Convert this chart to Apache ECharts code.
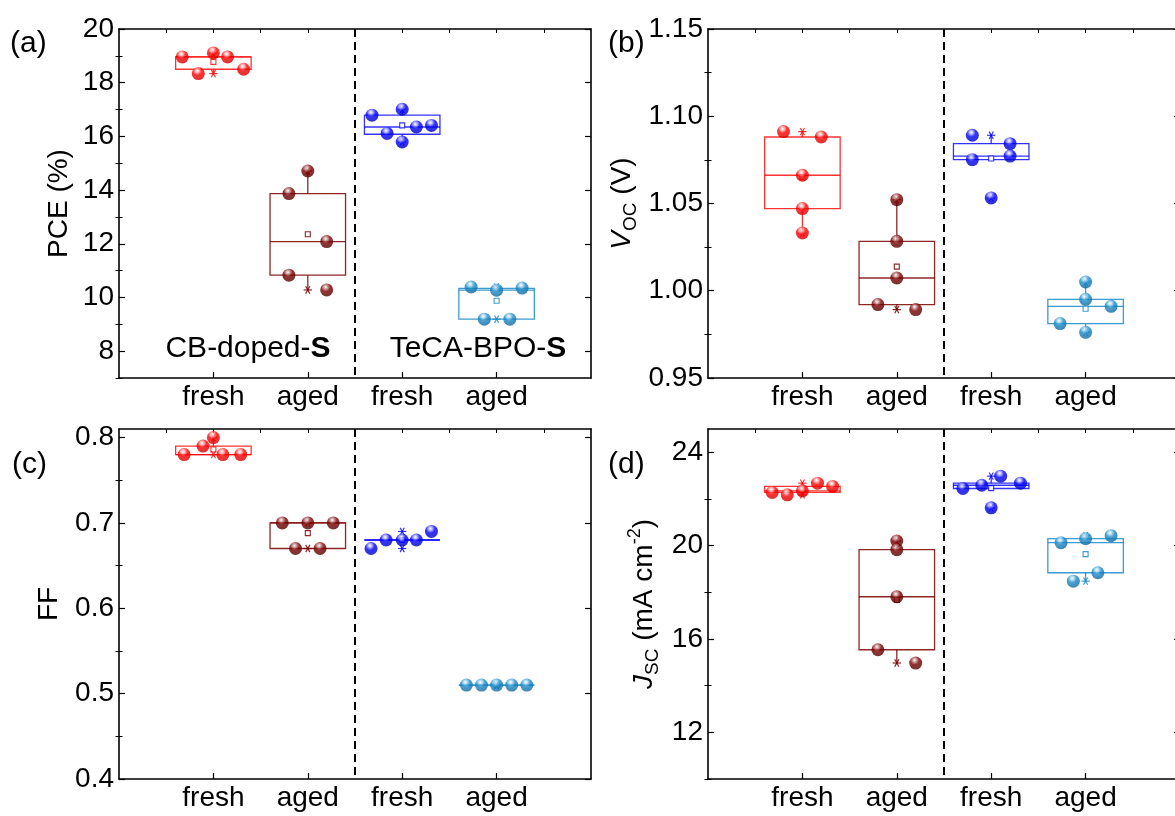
<!DOCTYPE html>
<html><head><meta charset="utf-8">
<script src="https://cdn.jsdelivr.net/npm/echarts@6/dist/echarts.min.js"></script>
<style>html,body{margin:0;padding:0;background:#fff}#c{width:1175px;height:816px}</style>
</head><body><div id="c"></div>
<script>
// ---------------- DATA ----------------
const groupLabels = ['fresh', 'aged', 'fresh', 'aged'];
const groupCenters = [1, 2, 3, 4];
const dividerX = 2.5;

// PCE (%)
const pceValues = [
  [18.96, 18.34, 19.11, 18.96, 18.50],
  [14.71, 13.87, 12.08, 10.83, 10.28],
  [16.79, 17.01, 16.11, 15.79, 16.35, 16.41],
  [10.39, 10.27, 10.35, 9.19, 9.19]
];
const pceJitter = [
  [-0.33, -0.16, 0, 0.15, 0.32],
  [0, -0.2, 0.2, -0.2, 0.2],
  [-0.32, 0, -0.16, 0, 0.15, 0.31],
  [-0.27, 0, 0.27, -0.13, 0.14]
];
// box stats: [whiskerLow, Q1, median, Q3, whiskerHigh]
const pceBox = [
  [18.34, 18.50, 18.96, 18.96, 19.11],
  [10.28, 10.83, 12.08, 13.87, 14.71],
  [15.79, 16.08, 16.35, 16.79, 17.01],
  [9.19, 9.19, 10.27, 10.34, 10.39]
];
const pceTicks = [8, 10, 12, 14, 16, 18, 20];
const pceMinorTicks = [7, 9, 11, 13, 15, 17, 19];

// Voc (V)
const vocValues = [
  [1.0912, 1.0881, 1.0662, 1.0471, 1.0331],
  [1.0522, 1.0283, 1.0073, 0.9921, 0.9892],
  [1.0891, 1.0843, 1.0751, 1.0772, 1.0532],
  [1.0050, 0.9951, 0.9911, 0.9812, 0.9762]
];
const vocJitter = [
  [-0.2, 0.2, 0, 0, 0],
  [0, 0, 0, -0.2, 0.2],
  [-0.2, 0.2, -0.2, 0.2, 0],
  [0, 0, 0.27, -0.27, 0]
];
const vocBox = [
  [1.0331, 1.0471, 1.0662, 1.0881, 1.0912],
  [0.9892, 0.9921, 1.0073, 1.0283, 1.0522],
  [1.0751, 1.0751, 1.0772, 1.0843, 1.0891],
  [0.9762, 0.9812, 0.9911, 0.9951, 1.0050]
];
const vocTicks = [0.95, 1.00, 1.05, 1.10, 1.15];
const vocMinorTicks = [0.975, 1.025, 1.075, 1.125];

// FF
const ffValues = [
  [0.78, 0.79, 0.80, 0.78, 0.78],
  [0.70, 0.70, 0.70, 0.67, 0.67],
  [0.67, 0.68, 0.68, 0.68, 0.69],
  [0.51, 0.51, 0.51, 0.51, 0.51]
];
const ffJitter = [
  [-0.31, -0.11, 0, 0.10, 0.29],
  [-0.27, 0, 0.27, -0.13, 0.13],
  [-0.33, -0.17, 0, 0.15, 0.31],
  [-0.32, -0.16, 0, 0.16, 0.32]
];
const ffBox = [
  [0.78, 0.78, 0.78, 0.79, 0.80],
  [0.67, 0.67, 0.70, 0.70, 0.70],
  [0.68, 0.68, 0.68, 0.68, 0.68],
  [0.51, 0.51, 0.51, 0.51, 0.51]
];
const ffTicks = [0.4, 0.5, 0.6, 0.7, 0.8];
const ffMinorTicks = [0.45, 0.55, 0.65, 0.75];

// Jsc (mA cm-2)
const jscValues = [
  [22.28, 22.18, 22.35, 22.68, 22.54],
  [20.20, 19.83, 17.81, 15.54, 14.97],
  [22.45, 22.59, 22.98, 22.68, 21.62],
  [20.13, 20.30, 20.43, 18.48, 18.84]
];
const jscJitter = [
  [-0.32, -0.16, 0, 0.16, 0.32],
  [0, 0, 0, -0.2, 0.2],
  [-0.30, -0.10, 0.10, 0.31, 0],
  [-0.26, 0, 0.27, -0.13, 0.13]
];
const jscBox = [
  [22.18, 22.28, 22.35, 22.54, 22.68],
  [14.97, 15.54, 17.81, 19.83, 20.20],
  [22.45, 22.45, 22.59, 22.68, 22.98],
  [18.48, 18.84, 20.13, 20.30, 20.43]
];
const jscTicks = [12, 16, 20, 24];
const jscMinorTicks = [10, 14, 18, 22];

// ---------------- STYLE ----------------
const FONT = 'Liberation Sans, Arial, sans-serif';
const ballStyles = [
  { base: '#FF0000', light: '#FFB0B0', dark: '#D00000' },
  { base: '#7A0000', light: '#C89090', dark: '#500000' },
  { base: '#0000FF', light: '#A8A8FF', dark: '#0000B8' },
  { base: '#1A8AC8', light: '#A8D6F0', dark: '#0F6498' }
];
const boxColors = ['rgba(255,0,0,0.8)', 'rgba(122,0,0,0.85)', 'rgba(0,0,255,0.8)', 'rgba(26,138,200,0.85)'];
const boxHalf = 0.4;

const panels = [
  { values: pceValues, jitter: pceJitter, box: pceBox, min: 7, max: 20, ticks: pceTicks, minor: pceMinorTicks, dec: 0,
    name: 'PCE (%)', nameGap: 46, grid: { left: 119, top: 29, width: 472, height: 349 } },
  { values: vocValues, jitter: vocJitter, box: vocBox, min: 0.95, max: 1.15, ticks: vocTicks, minor: vocMinorTicks, dec: 2,
    name: '{i|V}{s|OC}{n| (V)}', nameGap: 68, grid: { left: 708, top: 29, width: 472, height: 349 } },
  { values: ffValues, jitter: ffJitter, box: ffBox, min: 0.4, max: 0.81, ticks: ffTicks, minor: ffMinorTicks, dec: 1,
    name: 'FF', nameGap: 56, grid: { left: 119, top: 429, width: 472, height: 350 } },
  { values: jscValues, jitter: jscJitter, box: jscBox, min: 10, max: 25, ticks: jscTicks, minor: jscMinorTicks, dec: 0,
    name: '{i|J}{s|SC}{n| (mA cm}{p|-2}{n|)}', nameGap: 46, grid: { left: 708, top: 429, width: 472, height: 350 } }
];

const lineCol = '#000';
const grids = [], xAxes = [], yAxes = [], series = [];

function ballColor(s) {
  return {
    type: 'radial', x: 0.42, y: 0.28, r: 0.75,
    colorStops: [
      { offset: 0, color: '#ffffff' },
      { offset: 0.18, color: s.light },
      { offset: 0.45, color: s.base },
      { offset: 1, color: s.dark }
    ]
  };
}

panels.forEach((p, gi) => {
  grids.push(Object.assign({ outerBoundsMode: 'none', containLabel: false }, p.grid));
  // bottom x axis
  xAxes.push({
    type: 'value', gridIndex: gi, position: 'bottom', min: 0, max: 5,
    axisLine: { show: true, onZero: false, lineStyle: { color: lineCol, width: 1.6 } },
    axisTick: { show: true, inside: true, length: 6, customValues: groupCenters, lineStyle: { color: lineCol, width: 1.2 } },
    axisLabel: { show: true, customValues: groupCenters, margin: 5, fontSize: 28, color: '#000', fontFamily: FONT,
      formatter: v => groupLabels[groupCenters.indexOf(Math.round(v))] || '' },
    splitLine: { show: false }
  });
  // top x axis (frame)
  xAxes.push({
    type: 'value', gridIndex: gi, position: 'top', min: 0, max: 5,
    axisLine: { show: true, onZero: false, lineStyle: { color: lineCol, width: 1.6 } },
    axisTick: { show: true, inside: true, length: 4, customValues: [0.5, 1, 1.5, 2, 2.5, 3, 3.5, 4, 4.5], lineStyle: { color: lineCol, width: 1 } },
    axisLabel: { show: false }, splitLine: { show: false }
  });
  const fmt = v => p.dec === 0 ? String(Math.round(v)) : v.toFixed(p.dec);
  // left major
  yAxes.push({
    type: 'value', gridIndex: gi, position: 'left', min: p.min, max: p.max,
    name: p.name, nameLocation: 'middle', nameGap: p.nameGap, nameRotate: 90,
    nameTextStyle: {
      fontSize: 28, color: '#000', fontFamily: FONT,
      rich: {
        i: { fontSize: 28, fontStyle: 'italic', fontFamily: FONT, color: '#000', lineHeight: 36 },
        s: { fontSize: 19, fontFamily: FONT, color: '#000', verticalAlign: 'bottom', lineHeight: 36 },
        n: { fontSize: 28, fontFamily: FONT, color: '#000', lineHeight: 36 },
        p: { fontSize: 18, fontFamily: FONT, color: '#000', verticalAlign: 'top', lineHeight: 36 }
      }
    },
    axisLine: { show: true, onZero: false, lineStyle: { color: lineCol, width: 1.6 } },
    axisTick: { show: true, inside: true, length: 6, customValues: p.ticks, lineStyle: { color: lineCol, width: 1.2 } },
    axisLabel: { show: true, customValues: p.ticks, margin: 5, fontSize: 28, color: '#000', fontFamily: FONT, formatter: fmt },
    splitLine: { show: false }
  });
  // left minor
  yAxes.push({
    type: 'value', gridIndex: gi, position: 'left', min: p.min, max: p.max,
    axisLine: { show: false },
    axisTick: { show: true, inside: true, length: 3.5, customValues: p.minor, lineStyle: { color: lineCol, width: 1 } },
    axisLabel: { show: false }, splitLine: { show: false }
  });
  // right major
  yAxes.push({
    type: 'value', gridIndex: gi, position: 'right', min: p.min, max: p.max,
    axisLine: { show: true, onZero: false, lineStyle: { color: lineCol, width: 1.6 } },
    axisTick: { show: true, inside: true, length: 6, customValues: p.ticks, lineStyle: { color: lineCol, width: 1.2 } },
    axisLabel: { show: false }, splitLine: { show: false }
  });
  // right minor
  yAxes.push({
    type: 'value', gridIndex: gi, position: 'right', min: p.min, max: p.max,
    axisLine: { show: false },
    axisTick: { show: true, inside: true, length: 3.5, customValues: p.minor, lineStyle: { color: lineCol, width: 1 } },
    axisLabel: { show: false }, splitLine: { show: false }
  });

  const xi = gi * 2, yi = gi * 4;

  // divider dashed line
  series.push({
    type: 'line', xAxisIndex: xi, yAxisIndex: yi, z: 1, silent: true, symbol: 'none',
    data: [[dividerX, p.max], [dividerX, p.min]],
    lineStyle: { color: '#000', width: 2, type: [8, 5] }
  });

  // boxes
  const boxData = p.box.map((b, i) => {
    const vals = p.values[i];
    const mean = vals.reduce((s, v) => s + v, 0) / vals.length;
    return [groupCenters[i], b[0], b[1], b[2], b[3], b[4], mean, Math.min(...vals), Math.max(...vals)];
  });
  series.push({
    type: 'custom', xAxisIndex: xi, yAxisIndex: yi, z: 2, silent: true,
    encode: { x: 0, y: [1, 5] },
    data: boxData,
    renderItem: (params, api) => {
      const i = params.dataIndex;
      const col = boxColors[i];
      const c = api.value(0);
      const P = (x, y) => api.coord([x, y]);
      const lw = 1.3;
      const line = (a, b, w, colr) => ({ type: 'line', shape: { x1: a[0], y1: a[1], x2: b[0], y2: b[1] },
        style: { stroke: colr || col, lineWidth: w || lw } });
      const tl = P(c - boxHalf, api.value(4)), br = P(c + boxHalf, api.value(2));
      const ch = [];
      ch.push({ type: 'rect', shape: { x: tl[0], y: tl[1], width: br[0] - tl[0], height: br[1] - tl[1] },
        style: { fill: 'none', stroke: col, lineWidth: lw } });
      ch.push(line(P(c - boxHalf, api.value(3)), P(c + boxHalf, api.value(3))));
      ch.push(line(P(c, api.value(4)), P(c, api.value(5))));
      ch.push(line(P(c, api.value(2)), P(c, api.value(1))));
      const m = P(c, api.value(6));
      ch.push({ type: 'rect', shape: { x: m[0] - 2.5, y: m[1] - 2.5, width: 5, height: 5 },
        style: { fill: '#fff', stroke: col, lineWidth: 1.1 } });
      [api.value(7), api.value(8)].forEach(v => {
        const s = P(c, v), r = 4.2;
        ch.push(line([s[0] - r, s[1]], [s[0] + r, s[1]], 1.2));
        ch.push(line([s[0] - r * 0.5, s[1] - r * 0.87], [s[0] + r * 0.5, s[1] + r * 0.87], 1.2));
        ch.push(line([s[0] + r * 0.5, s[1] - r * 0.87], [s[0] - r * 0.5, s[1] + r * 0.87], 1.2));
      });
      return { type: 'group', children: ch };
    }
  });

  // points
  p.values.forEach((vals, i) => {
    series.push({
      type: 'scatter', xAxisIndex: xi, yAxisIndex: yi, z: 3, silent: true,
      symbol: 'circle', symbolSize: 13,
      data: vals.map((v, k) => [groupCenters[i] + p.jitter[i][k], v]),
      itemStyle: { color: ballColor(ballStyles[i]), borderWidth: 0 }
    });
  });
});

const txt = (text, x, y, extra) => Object.assign({
  type: 'text', x, y,
  style: Object.assign({ text, fontSize: 30, fontFamily: FONT, fill: '#000', textVerticalAlign: 'middle' }, extra || {})
});

const graphic = [
  txt('(a)', 10, 44),
  txt('(b)', 608, 44),
  txt('(c)', 12, 465),
  txt('(d)', 608, 465),
  txt('CB-doped-{b|S}', 248, 349, { textAlign: 'center', rich: { b: { fontWeight: 'bold', fontSize: 30, fontFamily: FONT } } }),
  txt('TeCA-BPO-{b|S}', 478, 349, { textAlign: 'center', rich: { b: { fontWeight: 'bold', fontSize: 30, fontFamily: FONT } } })
];

const chart = echarts.init(document.getElementById('c'), null, { renderer: 'canvas' });
chart.setOption({
  animation: false,
  backgroundColor: '#fff',
  grid: grids, xAxis: xAxes, yAxis: yAxes, series, graphic
});
</script>
</body></html>
